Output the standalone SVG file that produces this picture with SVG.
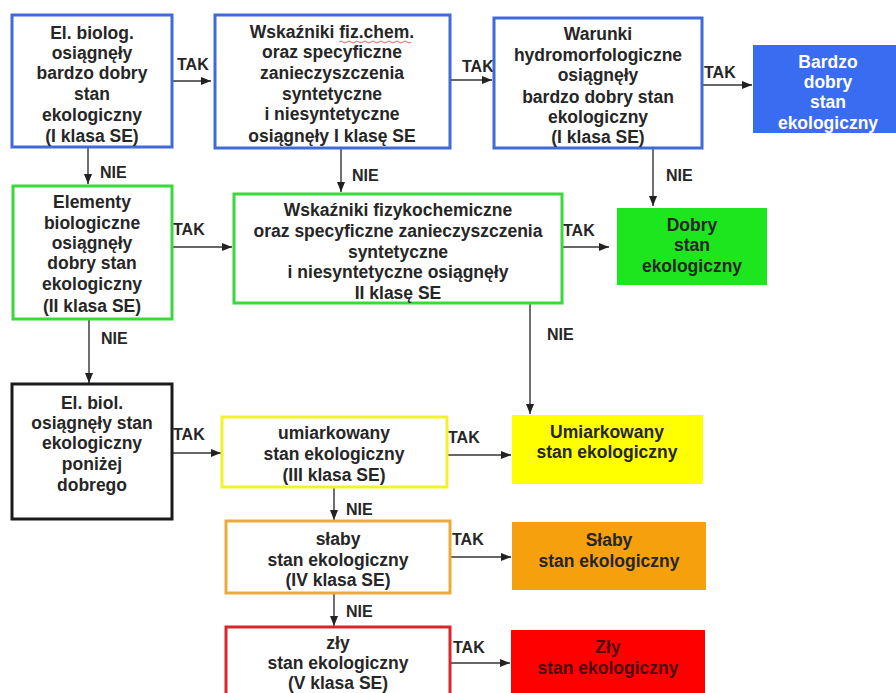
<svg xmlns="http://www.w3.org/2000/svg" width="896" height="693" viewBox="0 0 896 693">
<style>
text{font-family:"Liberation Sans",Arial,sans-serif;font-weight:bold;fill:#262626}
.t{font-size:17.5px;text-anchor:middle}
.l{font-size:16px}
.w{fill:#ffffff}
.dr{fill:#4a0a0a}
.box{fill:#ffffff;stroke-width:3}
.c{stroke:#333333;stroke-width:1.4;fill:none;marker-end:url(#ah)}
</style>
<defs>
<marker id="ah" markerUnits="userSpaceOnUse" markerWidth="11" markerHeight="9" refX="10" refY="4" orient="auto">
<path d="M0,0 L10,4 L0,8 z" fill="#222222"/>
</marker>
</defs>
<rect width="896" height="693" fill="#ffffff"/>
<g id="connectors">
<path class="c" d="M172,81 H211"/>
<path class="c" d="M450,80 H492"/>
<path class="c" d="M702,85 H752"/>
<path class="c" d="M88,147 V184"/>
<path class="c" d="M341,148 V192"/>
<path class="c" d="M653,148 V206"/>
<path class="c" d="M172,247 H232"/>
<path class="c" d="M562,247 H609"/>
<path class="c" d="M89,319 V383"/>
<path class="c" d="M530,303 V414"/>
<path class="c" d="M172,453 H221"/>
<path class="c" d="M447,455 H511"/>
<path class="c" d="M334,487 V520"/>
<path class="c" d="M450,557 H511"/>
<path class="c" d="M334,593 V626"/>
<path class="c" d="M450,663 H510"/>
<text class="l" x="177" y="70">TAK</text>
<text class="l" x="462" y="72">TAK</text>
<text class="l" x="704" y="78">TAK</text>
<text class="l" x="173" y="235">TAK</text>
<text class="l" x="563" y="236">TAK</text>
<text class="l" x="173" y="440">TAK</text>
<text class="l" x="448" y="443">TAK</text>
<text class="l" x="452" y="545">TAK</text>
<text class="l" x="453" y="653">TAK</text>
<text class="l" x="100" y="178">NIE</text>
<text class="l" x="352" y="181">NIE</text>
<text class="l" x="666" y="181">NIE</text>
<text class="l" x="101" y="344">NIE</text>
<text class="l" x="547" y="340">NIE</text>
<text class="l" x="346" y="515">NIE</text>
<text class="l" x="346" y="617">NIE</text>
</g>
<g id="n1">
<rect class="box" x="12" y="15" width="160" height="132" stroke="#3f6bd8"/>
<text class="t" x="92" y="39">El. biolog.</text>
<text class="t" x="92" y="59">osiągnęły</text>
<text class="t" x="92" y="79">bardzo dobry</text>
<text class="t" x="92" y="100">stan</text>
<text class="t" x="92" y="121">ekologiczny</text>
<text class="t" x="92" y="142">(I klasa SE)</text>
</g>
<g id="n2">
<rect class="box" x="215" y="15" width="235" height="133" stroke="#3f6bd8"/>
<text class="t" x="332" y="38">Wskaźniki fiz.chem.</text>
<path d="M339,42 q2,-2 4,0 t4,0 t4,0 t4,0 t4,0 t4,0 t4,0 t4,0 t4,0 t4,0 t4,0 t4,0 t4,0 t4,0 t4,0 t4,0 t4,0 t4,0" fill="none" stroke="#e05050" stroke-width="0.9"/>
<text class="t" x="332" y="58">oraz specyficzne</text>
<text class="t" x="332" y="79">zanieczyszczenia</text>
<text class="t" x="332" y="100">syntetyczne</text>
<text class="t" x="332" y="120">i niesyntetyczne</text>
<text class="t" x="332" y="142">osiągnęły I klasę SE</text>
</g>
<g id="n3">
<rect class="box" x="494" y="18" width="208" height="130" stroke="#3f6bd8"/>
<text class="t" x="598" y="40">Warunki</text>
<text class="t" x="598" y="61">hydromorfologiczne</text>
<text class="t" x="598" y="81">osiągnęły</text>
<text class="t" x="598" y="103">bardzo dobry stan</text>
<text class="t" x="598" y="123">ekologiczny</text>
<text class="t" x="598" y="143">(I klasa SE)</text>
</g>
<g id="n4">
<rect x="753" y="45" width="145" height="88" fill="#3a6cf2"/>
<text class="t w" x="828" y="68">Bardzo</text>
<text class="t w" x="828" y="88">dobry</text>
<text class="t w" x="828" y="108">stan</text>
<text class="t w" x="828" y="129">ekologiczny</text>
</g>
<g id="n5">
<rect class="box" x="13" y="186" width="159" height="133" stroke="#3ad83a"/>
<text class="t" x="92" y="208">Elementy</text>
<text class="t" x="92" y="229">biologiczne</text>
<text class="t" x="92" y="249">osiągnęły</text>
<text class="t" x="92" y="269">dobry stan</text>
<text class="t" x="92" y="290">ekologiczny</text>
<text class="t" x="92" y="312">(II klasa SE)</text>
</g>
<g id="n6">
<rect class="box" x="234" y="194" width="328" height="109" stroke="#3ad83a"/>
<text class="t" x="398" y="216">Wskaźniki fizykochemiczne</text>
<text class="t" x="398" y="237">oraz specyficzne zanieczyszczenia</text>
<text class="t" x="398" y="258">syntetyczne</text>
<text class="t" x="398" y="278">i niesyntetyczne osiągnęły</text>
<text class="t" x="398" y="299">II klasę SE</text>
</g>
<g id="n7">
<rect x="617" y="208" width="150" height="77" fill="#1ee61e"/>
<text class="t" x="692" y="231">Dobry</text>
<text class="t" x="692" y="251">stan</text>
<text class="t" x="692" y="272">ekologiczny</text>
</g>
<g id="n8">
<rect class="box" x="12" y="384" width="160" height="135" stroke="#1a1a1a"/>
<text class="t" x="92" y="409">El. biol.</text>
<text class="t" x="92" y="429">osiągnęły stan</text>
<text class="t" x="92" y="449">ekologiczny</text>
<text class="t" x="92" y="470">poniżej</text>
<text class="t" x="92" y="491">dobrego</text>
</g>
<g id="n9">
<rect class="box" x="222" y="417" width="225" height="70" stroke="#f2f22a"/>
<text class="t" x="334" y="439">umiarkowany</text>
<text class="t" x="334" y="460">stan ekologiczny</text>
<text class="t" x="334" y="481">(III klasa SE)</text>
</g>
<g id="n10">
<rect x="512" y="415" width="191" height="69" fill="#ffff00"/>
<text class="t" x="607" y="438">Umiarkowany</text>
<text class="t" x="607" y="458">stan ekologiczny</text>
</g>
<g id="n11">
<rect class="box" x="226" y="521" width="224" height="72" stroke="#eeaa38"/>
<text class="t" x="338" y="545">słaby</text>
<text class="t" x="338" y="566">stan ekologiczny</text>
<text class="t" x="338" y="586">(IV klasa SE)</text>
</g>
<g id="n12">
<rect x="512" y="522" width="194" height="68" fill="#f7a00e"/>
<text class="t" x="609" y="546">Słaby</text>
<text class="t" x="609" y="567">stan ekologiczny</text>
</g>
<g id="n13">
<rect class="box" x="226" y="627" width="224" height="80" stroke="#d92626"/>
<text class="t" x="338" y="649">zły</text>
<text class="t" x="338" y="669">stan ekologiczny</text>
<text class="t" x="338" y="689">(V klasa SE)</text>
</g>
<g id="n14">
<rect x="511" y="630" width="194" height="70" fill="#ff0000"/>
<text class="t dr" x="608" y="653">Zły</text>
<text class="t dr" x="608" y="674">stan ekologiczny</text>
</g>
</svg>
